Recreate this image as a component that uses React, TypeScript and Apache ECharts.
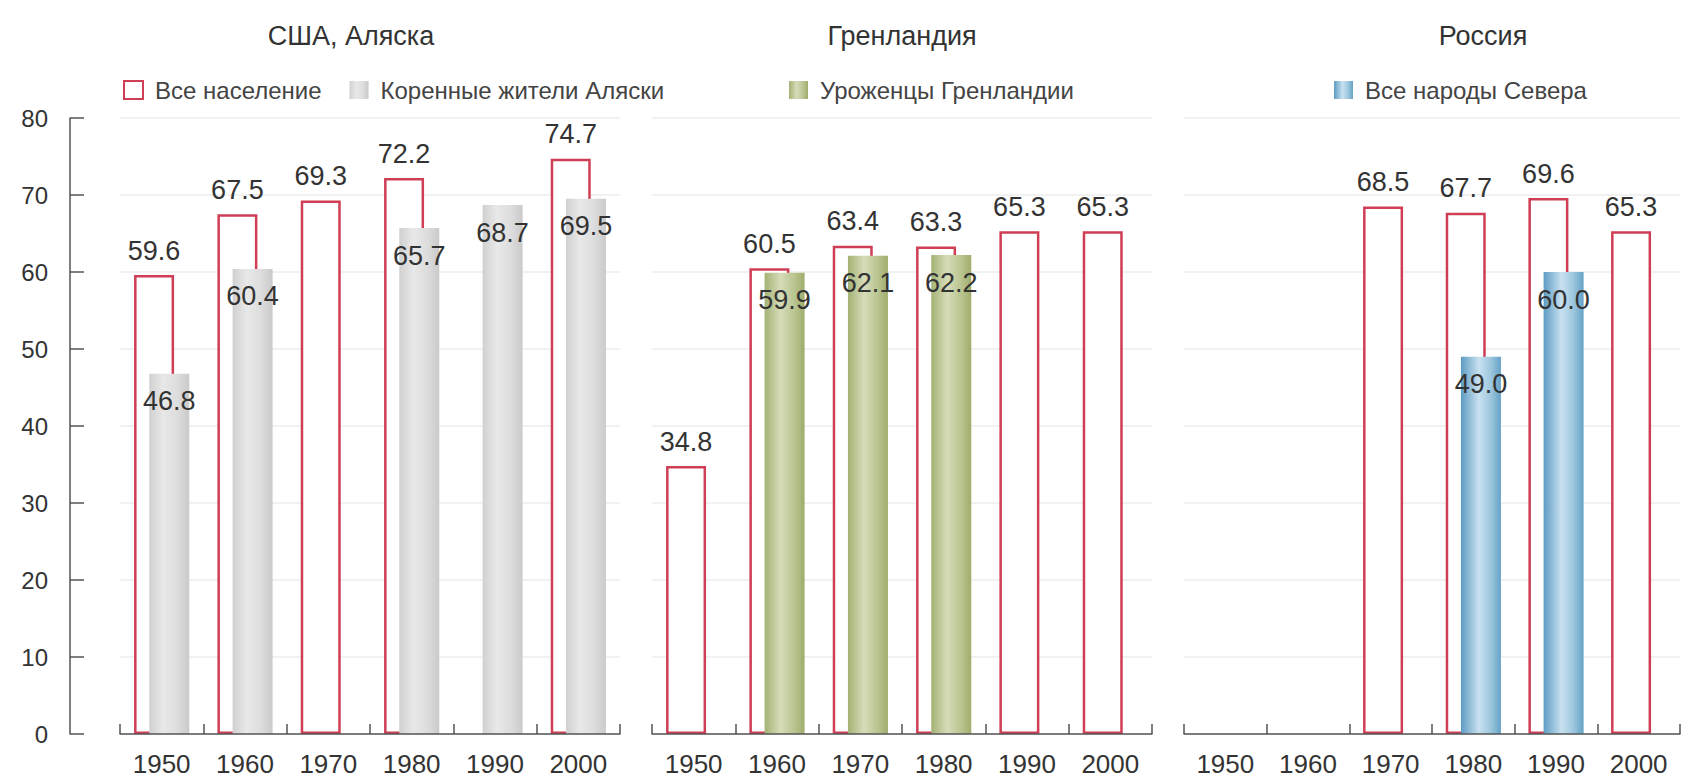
import React, { useEffect, useRef } from 'react';
import * as echarts from 'echarts';

const years = ['1950', '1960', '1970', '1980', '1990', '2000'];
const panelTitles = ['США, Аляска', 'Гренландия', 'Россия'];
const allName = 'Все население';
const alaskaNativeName = 'Коренные жители Аляски';
const greenlandNativeName = 'Уроженцы Гренландии';
const russiaNorthName = 'Все народы Севера';

const alaskaAll = [59.6, 67.5, 69.3, 72.2, null, 74.7];
const alaskaNative = [46.8, 60.4, null, 65.7, 68.7, 69.5];
const greenlandAll = [34.8, 60.5, 63.4, 63.3, 65.3, 65.3];
const greenlandNative = [null, 59.9, 62.1, 62.2, null, null];
const russiaAll = [null, null, 68.5, 67.7, 69.6, 65.3];
const russiaNorth = [null, null, null, 49.0, 60.0, null];

const yMin = 0;
const yMax = 80;
const yStep = 10;

const FONT = 'Liberation Sans, Arial, sans-serif';
const RED = '#cf3e55';
const TEXT = '#333333';
const AXIS = '#555555';

const grad = (stops: [number, string][]) =>
  new echarts.graphic.LinearGradient(0, 0, 1, 0, stops.map(([offset, color]) => ({ offset, color })));

const greyFill = () => grad([[0, '#d0d0d0'], [0.35, '#e8e8e8'], [0.7, '#dddddd'], [1, '#cacaca']]);
const greenFill = () => grad([[0, '#a4b274'], [0.4, '#d6dcb9'], [0.75, '#b9c48f'], [1, '#9fad6c']]);
const blueFill = () => grad([[0, '#5e9bc2'], [0.45, '#c8e1f0'], [0.75, '#9cc6dd'], [1, '#64a2c7']]);

const fmt = (p: any) => (p.value == null ? '' : Number(p.value).toFixed(1));

export default function App() {
  const ref = useRef<HTMLDivElement>(null);

  useEffect(() => {
    if (!ref.current) return;
    const chart = echarts.init(ref.current, undefined, { renderer: 'svg' });

    const gridLefts = [120, 652, 1184];
    const gridWidths = [500, 500, 496];
    const titleCenters = [346, 897, 1478];

    const redSeries = (data: (number | null)[], idx: number) => ({
      type: 'bar',
      name: allName,
      xAxisIndex: idx,
      yAxisIndex: idx,
      data,
      barWidth: 40,
      barGap: '-62%',
      itemStyle: { color: '#ffffff', borderColor: RED, borderWidth: 2.5 },
      label: {
        show: true,
        position: 'top',
        distance: 11,
        formatter: fmt,
        fontSize: 27,
        color: TEXT,
        fontFamily: FONT,
      },
    });

    const fillSeries = (name: string, data: (number | null)[], idx: number, fill: any) => ({
      type: 'bar',
      name,
      xAxisIndex: idx,
      yAxisIndex: idx,
      data,
      barWidth: 40,
      barGap: '-62%',
      itemStyle: { color: fill },
      label: {
        show: true,
        position: 'insideTop',
        distance: 14,
        formatter: fmt,
        fontSize: 27,
        color: TEXT,
        fontFamily: FONT,
      },
    });

    const option: any = {
      animation: false,
      backgroundColor: '#ffffff',
      textStyle: { fontFamily: FONT },
      title: panelTitles.map((t, i) => ({
        text: t,
        left: titleCenters[i],
        top: 17,
        textAlign: 'center',
        textStyle: { fontSize: 27, fontWeight: 'normal', color: TEXT, fontFamily: FONT },
      })),
      legend: [
        { data: [allName, alaskaNativeName], left: 123 },
        { data: [greenlandNativeName], left: 789 },
        { data: [russiaNorthName], left: 1334 },
      ].map((l) => ({
        ...l,
        top: 78,
        padding: 0,
        itemGap: 28,
        itemWidth: 19,
        itemHeight: 18,
        selectedMode: false,
        icon: 'rect',
        textStyle: { fontSize: 24, color: '#444444', fontFamily: FONT, padding: [0, 0, 0, 7] },
      })),
      grid: gridLefts.map((left, i) => ({
        left,
        width: gridWidths[i],
        top: 118,
        height: 616,
      })),
      xAxis: gridLefts.map((_, i) => ({
        type: 'category',
        gridIndex: i,
        data: years,
        z: 5,
        axisLine: { show: true, lineStyle: { color: AXIS, width: 1.5 } },
        axisTick: { show: true, inside: true, length: 10, lineStyle: { color: AXIS, width: 1.5 } },
        axisLabel: { fontSize: 26, color: TEXT, fontFamily: FONT, margin: 17 },
      })),
      yAxis: gridLefts.map((_, i) => ({
        type: 'value',
        gridIndex: i,
        min: yMin,
        max: yMax,
        interval: yStep,
        offset: i === 0 ? 50 : 0,
        axisLine: { show: i === 0, lineStyle: { color: AXIS, width: 1.5 } },
        axisTick: { show: i === 0, inside: true, length: 14, lineStyle: { color: AXIS, width: 1.5 } },
        axisLabel: { show: i === 0, fontSize: 24, color: TEXT, fontFamily: FONT, margin: 22 },
        splitLine: { show: true, lineStyle: { color: '#ececec', width: 1.5 } },
      })),
      series: [
        redSeries(alaskaAll, 0),
        fillSeries(alaskaNativeName, alaskaNative, 0, greyFill()),
        redSeries(greenlandAll, 1),
        fillSeries(greenlandNativeName, greenlandNative, 1, greenFill()),
        redSeries(russiaAll, 2),
        fillSeries(russiaNorthName, russiaNorth, 2, blueFill()),
      ],
    };

    chart.setOption(option);
    return () => chart.dispose();
  }, []);

  return (
    <div
      ref={ref}
      style={{ position: 'fixed', left: 0, top: 0, width: 1683, height: 779, background: '#fff' }}
    />
  );
}
